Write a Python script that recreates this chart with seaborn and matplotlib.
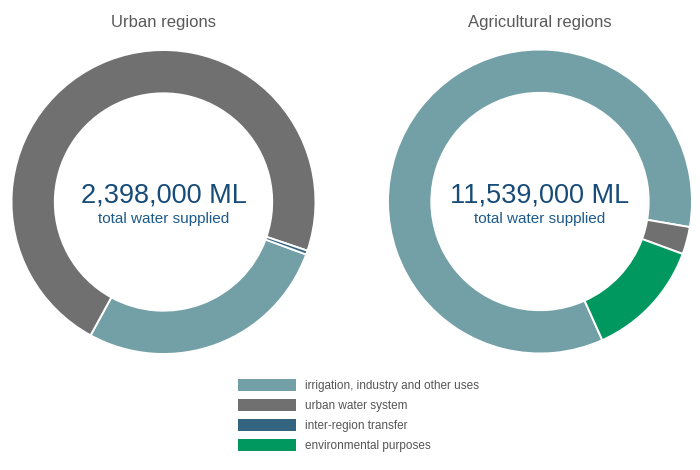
"""Water supplied by region type, two donut charts."""

import matplotlib

matplotlib.use("Agg")
import matplotlib.pyplot as plt
from matplotlib.patches import Patch
import seaborn as sns

CATEGORIES = [
    "irrigation, industry and other uses",
    "urban water system",
    "inter-region transfer",
    "environmental purposes",
]
COLORS = ["#72a0a6", "#6f706f", "#346580", "#00985f"]

REGIONS = ["Urban regions", "Agricultural regions"]
TOTALS = ["2,398,000 ML", "11,539,000 ML"]

# ML per category, in clockwise order as drawn
URBAN_LABELS = ["irrigation, industry and other uses", "urban water system", "inter-region transfer"]
URBAN_VALUES = [656_000, 1_732_000, 10_000]
AGRI_LABELS = ["irrigation, industry and other uses", "urban water system", "environmental purposes"]
AGRI_VALUES = [9_741_000, 336_000, 1_462_000]

sns.set_theme(style="white")
plt.rcParams["font.family"] = ["Liberation Sans", "DejaVu Sans"]

W, H = 700, 470
fig = plt.figure(figsize=(7, 4.7), dpi=100)

color_of = dict(zip(CATEGORIES, COLORS))


def donut(cx, cy, r, labels, values, start, title, total):
    ax = fig.add_axes([(cx - r) / W, (H - cy - r) / H, 2 * r / W, 2 * r / H])
    ax.pie(
        values,
        colors=[color_of[lab] for lab in labels],
        startangle=start,
        counterclock=False,
        radius=1,
        wedgeprops=dict(width=0.285, edgecolor="white", linewidth=1.4),
    )
    ax.set_xlim(-1, 1)
    ax.set_ylim(-1, 1)
    ax.set_aspect("equal")
    ax.axis("off")
    fig.text(cx / W, 1 - 22 / H, title, ha="center", va="center",
             fontsize=12, color="#595959")
    fig.text(cx / W, 1 - 195 / H, total, ha="center", va="center",
             fontsize=19.5, color="#174b78")
    fig.text(cx / W, 1 - 219 / H, "total water supplied", ha="center",
             va="center", fontsize=11, color="#1d5a8c")


donut(163.5, 202, 152, URBAN_LABELS, URBAN_VALUES, -20.2, REGIONS[0], TOTALS[0])
donut(540, 201.5, 152, AGRI_LABELS, AGRI_VALUES, -65.8, REGIONS[1], TOTALS[1])

handles = [Patch(facecolor=c, edgecolor="none") for c in COLORS]
leg = fig.legend(
    handles,
    CATEGORIES,
    loc="upper left",
    bbox_to_anchor=(238 / W, 1 - 379 / H),
    frameon=False,
    fontsize=8.5,
    handlelength=4.9,
    handleheight=1.2,
    handletextpad=0.75,
    labelspacing=0.6,
    borderpad=0,
    borderaxespad=0,
)
for t in leg.get_texts():
    t.set_color("#555555")

fig.savefig("out.png", dpi=100, facecolor="white")
plt.close(fig)
